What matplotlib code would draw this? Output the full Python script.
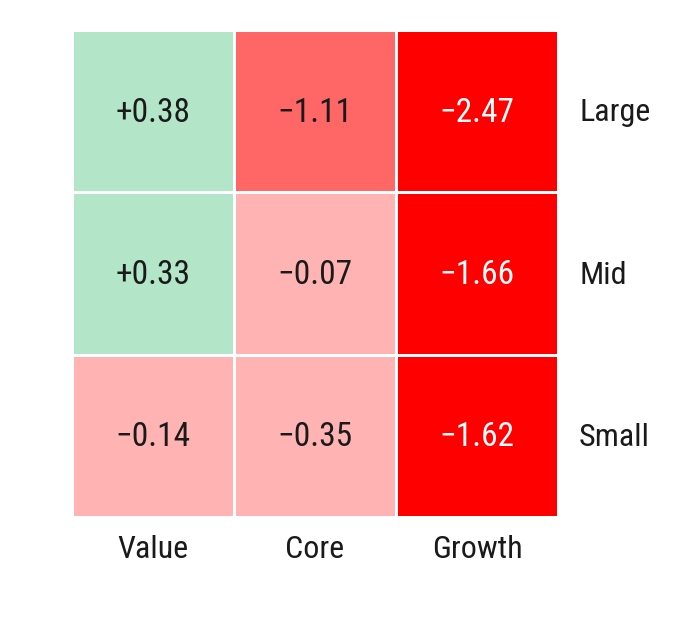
import matplotlib
matplotlib.use('Agg')
import matplotlib.pyplot as plt
from matplotlib.colors import ListedColormap, BoundaryNorm
import numpy as np

rows = ['Large', 'Mid', 'Small']
cols = ['Value', 'Core', 'Growth']
values = np.array([
    [0.38, -1.11, -2.47],
    [0.33, -0.07, -1.66],
    [-0.14, -0.35, -1.62],
])

plt.rcParams['font.family'] = ['Roboto Condensed', 'Liberation Sans Narrow', 'Roboto', 'DejaVu Sans']

# discrete colour bins
cmap = ListedColormap(['#ff0000', '#ff6666', '#ffb3b3', '#b3e6c8'])
norm = BoundaryNorm([-10, -1.5, -1.0, 0.0, 10], cmap.N)

fig = plt.figure(figsize=(6.8, 6.23), dpi=100)
ax = fig.add_axes([72 / 680, 1 - 517 / 623, 486 / 680, 487 / 623])

ax.pcolormesh(values, cmap=cmap, norm=norm, edgecolors='white', linewidth=2)
ax.set_xlim(0, 3)
ax.set_ylim(3, 0)

for i in range(len(rows)):
    for j in range(len(cols)):
        v = values[i, j]
        txt = ('+%.2f' % v) if v > 0 else ('\u2212%.2f' % abs(v))
        color = 'white' if v <= -1.5 else '#1a1a1a'
        ax.text(j + 0.5, i + 0.51, txt, ha='center', va='center', fontsize=24,
                color=color, fontstretch='condensed')

for i, r in enumerate(rows):
    ax.text(3.13, i + 0.51, r, ha='left', va='center', fontsize=23,
            color='#1a1a1a', fontstretch='condensed')
for j, c in enumerate(cols):
    ax.text(j + 0.5, 3.2, c, ha='center', va='center', fontsize=23,
            color='#1a1a1a', fontstretch='condensed')

ax.set_xticks([])
ax.set_yticks([])
for s in ax.spines.values():
    s.set_visible(False)

fig.savefig('out.png', dpi=100, facecolor='white')
